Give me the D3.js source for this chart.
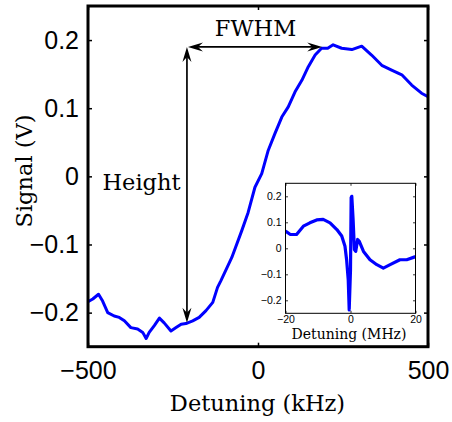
<!DOCTYPE html>
<html>
<head>
<meta charset="utf-8">
<script src="https://cdn.jsdelivr.net/npm/d3@7"></script>
<style>
  body { margin: 0; background: #fff; }
  .tick text { fill: #000; }
</style>
</head>
<body>
<svg id="chart" width="452" height="422"></svg>
<script>
// main trace: detuning (kHz) vs signal (V)
const mainDetuning = [-500, -486, -469, -457, -442, -423, -408, -393, -374, -354, -339, -329, -320, -305, -290,
  -276, -256, -241, -226, -212, -192, -173, -153, -133, -119, -109, -77, -48, -29, -9, 11, 30, 50, 70, 89,
  109, 129, 148, 168, 187, 205, 221, 246, 276, 305, 334, 364, 393, 423, 452, 481, 500];
const mainSignal = [-0.184, -0.180, -0.173, -0.183, -0.200, -0.205, -0.207, -0.212, -0.222, -0.224, -0.229, -0.238,
  -0.229, -0.219, -0.208, -0.215, -0.227, -0.222, -0.217, -0.216, -0.212, -0.207, -0.197, -0.185, -0.163, -0.153,
  -0.119, -0.080, -0.053, -0.016, 0.004, 0.038, 0.063, 0.087, 0.102, 0.124, 0.141, 0.161, 0.178, 0.188, 0.188,
  0.193, 0.188, 0.186, 0.191, 0.178, 0.163, 0.156, 0.149, 0.134, 0.122, 0.117];

// inset trace: detuning (MHz) vs signal (V)
const insetDetuning = [-20, -18.5, -16.6, -14.5, -12.5, -10.4, -8.4, -6.3, -4.2, -2.7, -1.7, -1.2, -0.7, -0.4, 0,
  0.2, 0.4, 0.8, 1.2, 1.6, 2.2, 2.7, 4.0, 6.0, 8.1, 10.1, 12.2, 15.2, 17.3, 19.8, 20];
const insetSignal = [0.066, 0.053, 0.053, 0.085, 0.098, 0.109, 0.111, 0.098, 0.072, 0.047, 0.008, -0.044, -0.121,
  -0.237, -0.083, 0.195, 0.2, 0.111, -0.005, -0.012, 0.034, 0.027, -0.012, -0.044, -0.063, -0.076, -0.063,
  -0.044, -0.044, -0.033, -0.03];

const mainXTicks = [-500, 0, 500];
const mainYTicks = [-0.2, -0.1, 0, 0.1, 0.2];
const insetXTicks = [-20, 0, 20];
const insetYTicks = [-0.2, -0.1, 0, 0.1, 0.2];

// annotation arrows (data units)
const heightArrow = { x: -209, from: -0.215, to: 0.19 };
const fwhmArrow = { y: 0.19, from: -206, to: 189 };

const svg = d3.select('#chart');

const m = { left: 88, right: 428, top: 6, bottom: 346.7 };
const ins = { left: 285.5, right: 415.5, top: 183.3, bottom: 313.3 };

const x = d3.scaleLinear().domain([-500, 500]).range([m.left, m.right]);
const y = d3.scaleLinear().domain([-0.25, 0.25]).range([m.bottom, m.top]);
const xi = d3.scaleLinear().domain([-20, 20]).range([ins.left, ins.right]);
const yi = d3.scaleLinear().domain([-0.25, 0.25]).range([ins.bottom, ins.top]);

const fmt = d3.format('');

svg.append('clipPath').attr('id', 'clipMain')
  .append('rect').attr('x', m.left).attr('y', m.top)
  .attr('width', m.right - m.left).attr('height', m.bottom - m.top);
svg.append('clipPath').attr('id', 'clipInset')
  .append('rect').attr('x', ins.left).attr('y', ins.top)
  .attr('width', ins.right - ins.left).attr('height', ins.bottom - ins.top);

// main curve
const mainLine = d3.line().x((d, i) => x(mainDetuning[i])).y(d => y(d));
svg.append('path')
  .attr('d', mainLine(mainSignal))
  .attr('clip-path', 'url(#clipMain)')
  .attr('fill', 'none')
  .attr('stroke', '#0000ff')
  .attr('stroke-width', 3)
  .attr('stroke-linejoin', 'round');

// main axes
function styleAxis(g, size) {
  g.select('.domain').remove();
  g.selectAll('.tick line').attr('stroke', '#000').attr('stroke-width', 1.5);
  g.selectAll('.tick text')
    .style('font-family', '"Liberation Sans", Arial, sans-serif')
    .style('font-size', size + 'px');
}

svg.append('g').attr('transform', `translate(0,${m.bottom})`)
  .call(d3.axisBottom(x).tickValues(mainXTicks).tickFormat(fmt).tickSizeInner(-4).tickSizeOuter(0).tickPadding(15))
  .call(g => styleAxis(g, 25));
svg.append('g').attr('transform', `translate(0,${m.top})`)
  .call(d3.axisTop(x).tickValues(mainXTicks).tickFormat('').tickSizeInner(-4).tickSizeOuter(0))
  .call(g => styleAxis(g, 25));
svg.append('g').attr('transform', `translate(${m.left},0)`)
  .call(d3.axisLeft(y).tickValues(mainYTicks).tickFormat(fmt).tickSizeInner(-4).tickSizeOuter(0).tickPadding(9))
  .call(g => styleAxis(g, 25));
svg.append('g').attr('transform', `translate(${m.right},0)`)
  .call(d3.axisRight(y).tickValues(mainYTicks).tickFormat('').tickSizeInner(-4).tickSizeOuter(0))
  .call(g => styleAxis(g, 25));

svg.append('rect')
  .attr('x', m.left).attr('y', m.top)
  .attr('width', m.right - m.left).attr('height', m.bottom - m.top)
  .attr('fill', 'none').attr('stroke', '#000').attr('stroke-width', 3);

// axis titles
const serif = '"DejaVu Serif", serif';
svg.append('text')
  .attr('x', 257.5).attr('y', 411)
  .attr('text-anchor', 'middle')
  .style('font-family', serif).style('font-size', '22.5px')
  .text('Detuning (kHz)');
svg.append('text')
  .attr('transform', 'translate(32,171) rotate(-90)')
  .attr('text-anchor', 'middle')
  .style('font-family', serif).style('font-size', '22.5px')
  .text('Signal (V)');

// arrows
function arrowHead(px, py, angle) {
  svg.append('path')
    .attr('d', 'M0,0 L-15,-4.5 L-10,0 L-15,4.5 Z')
    .attr('transform', `translate(${px},${py}) rotate(${angle})`)
    .attr('fill', '#000');
}
svg.append('line')
  .attr('x1', x(heightArrow.x)).attr('x2', x(heightArrow.x))
  .attr('y1', y(heightArrow.from) - 8).attr('y2', y(heightArrow.to) + 8)
  .attr('stroke', '#000').attr('stroke-width', 1.7);
arrowHead(x(heightArrow.x), y(heightArrow.to), -90);
arrowHead(x(heightArrow.x), y(heightArrow.from), 90);

svg.append('line')
  .attr('x1', x(fwhmArrow.from) + 8).attr('x2', x(fwhmArrow.to) - 8)
  .attr('y1', y(fwhmArrow.y)).attr('y2', y(fwhmArrow.y))
  .attr('stroke', '#000').attr('stroke-width', 1.7);
arrowHead(x(fwhmArrow.from), y(fwhmArrow.y), 180);
arrowHead(x(fwhmArrow.to), y(fwhmArrow.y), 0);

svg.append('text')
  .attr('x', 255.5).attr('y', 36)
  .attr('text-anchor', 'middle')
  .style('font-family', serif).style('font-size', '22.5px')
  .text('FWHM');
svg.append('text')
  .attr('x', 141.5).attr('y', 190)
  .attr('text-anchor', 'middle')
  .style('font-family', serif).style('font-size', '22.5px')
  .text('Height');

// inset
svg.append('rect')
  .attr('x', ins.left).attr('y', ins.top)
  .attr('width', ins.right - ins.left).attr('height', ins.bottom - ins.top)
  .attr('fill', '#fff');

const insetLine = d3.line().x((d, i) => xi(insetDetuning[i])).y(d => yi(d));
svg.append('path')
  .attr('d', insetLine(insetSignal))
  .attr('clip-path', 'url(#clipInset)')
  .attr('fill', 'none')
  .attr('stroke', '#0000ff')
  .attr('stroke-width', 3.2)
  .attr('stroke-linejoin', 'round');

function styleInset(g) {
  g.select('.domain').remove();
  g.selectAll('.tick line').attr('stroke', '#000').attr('stroke-width', 0.8);
  g.selectAll('.tick text')
    .style('font-family', '"Liberation Sans", Arial, sans-serif')
    .style('font-size', '10.5px');
}
svg.append('g').attr('transform', `translate(0,${ins.bottom})`)
  .call(d3.axisBottom(xi).tickValues(insetXTicks).tickFormat(fmt).tickSizeInner(-2.5).tickSizeOuter(0).tickPadding(2.5))
  .call(styleInset);
svg.append('g').attr('transform', `translate(0,${ins.top})`)
  .call(d3.axisTop(xi).tickValues(insetXTicks).tickFormat('').tickSizeInner(-2.5).tickSizeOuter(0))
  .call(styleInset);
svg.append('g').attr('transform', `translate(${ins.left},0)`)
  .call(d3.axisLeft(yi).tickValues(insetYTicks).tickFormat(fmt).tickSizeInner(-2.5).tickSizeOuter(0).tickPadding(4))
  .call(styleInset);
svg.append('g').attr('transform', `translate(${ins.right},0)`)
  .call(d3.axisRight(yi).tickValues(insetYTicks).tickFormat('').tickSizeInner(-2.5).tickSizeOuter(0))
  .call(styleInset);

svg.append('rect')
  .attr('x', ins.left).attr('y', ins.top)
  .attr('width', ins.right - ins.left).attr('height', ins.bottom - ins.top)
  .attr('fill', 'none').attr('stroke', '#000').attr('stroke-width', 1);

svg.append('text')
  .attr('x', 349).attr('y', 339)
  .attr('text-anchor', 'middle')
  .style('font-family', serif).style('font-size', '14px')
  .text('Detuning (MHz)');
</script>
</body>
</html>
